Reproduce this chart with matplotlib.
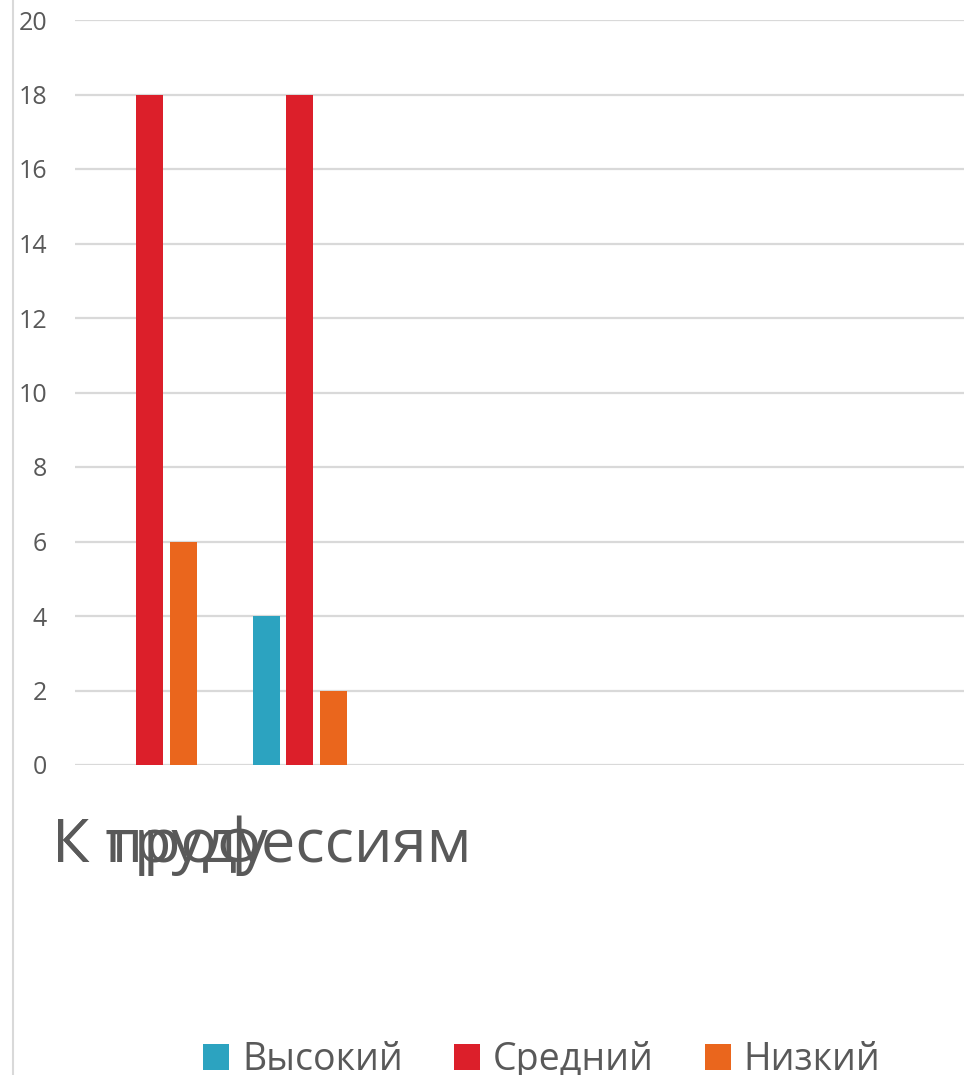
"""Bar chart: attitude levels by category (К труду / К профессиям)."""
import matplotlib
matplotlib.use("Agg")
import matplotlib.pyplot as plt
from matplotlib.lines import Line2D
from matplotlib.patches import Patch
from matplotlib.transforms import blended_transform_factory

plt.rcParams["font.family"] = ["Open Sans", "DejaVu Sans"]

categories = ["К труду", "К профессиям"]
series = ["Высокий", "Средний", "Низкий"]
values_high = [0, 4]
values_mid = [18, 18]
values_low = [6, 2]
colors = ["#2ca3c0", "#dc1f2a", "#ea661d"]
y_ticks = list(range(0, 21, 2))

TEXT = "#595959"
GRID = "#d9d9d9"

fig = plt.figure(figsize=(9.64, 10.75), dpi=100)
ax = fig.add_axes([75 / 964, 1 - 765 / 1075, 889 / 964, 745 / 1075])

width = 0.18
offset = 0.222
xs = list(range(len(categories)))
for i, (vals, col) in enumerate(zip([values_high, values_mid, values_low], colors)):
    pos = [x + (i - 1) * offset for x in xs]
    ax.bar(pos, vals, width=width, color=col, zorder=3)

ax.set_xlim(-0.5, 5.427)
ax.set_ylim(0, 20)
ax.set_yticks(y_ticks)
ax.set_yticklabels([str(t) for t in y_ticks], fontsize=18, color=TEXT)
ax.set_xticks([])
ax.tick_params(axis="y", length=0, pad=20)
ax.yaxis.grid(True, color=GRID, linewidth=1.6, zorder=0)
for s in ax.spines.values():
    s.set_visible(False)

# category labels (they overlap in the original, both start at the same spot)
tr = blended_transform_factory(ax.transData, ax.transAxes)
for cat in categories:
    ax.text(-0.653, -0.130, cat, transform=tr, ha="left", va="baseline",
            fontsize=44, color=TEXT)

# light border line at the left edge
fig.add_artist(Line2D([13 / 964, 13 / 964], [0, 1], transform=fig.transFigure,
                      color=GRID, linewidth=1.5))

handles = [Patch(facecolor=c, edgecolor="none") for c in colors]
fig.legend(handles, series, loc="center left", bbox_to_anchor=(203 / 964, 1 - 1060 / 1075),
           ncol=3, frameon=False, fontsize=27, labelcolor=TEXT, borderpad=0,
           borderaxespad=0, handlelength=0.69, handleheight=0.69,
           handletextpad=0.35, columnspacing=1.36)

fig.savefig("out.png", dpi=100)
plt.close(fig)
